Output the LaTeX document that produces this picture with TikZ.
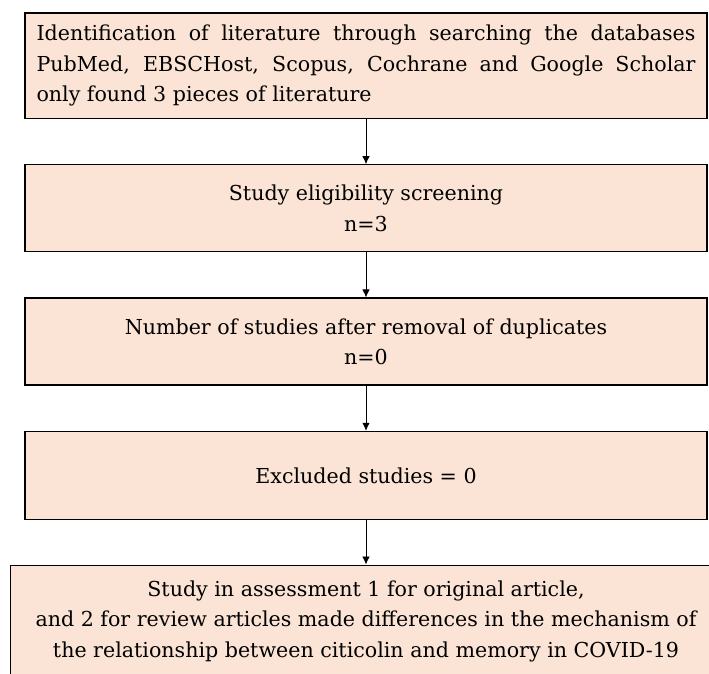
\documentclass[tikz,border=0pt]{standalone}
\usepackage{fontspec}
\setmainfont{DejaVu Serif}
\usetikzlibrary{arrows.meta,positioning}
\definecolor{boxfill}{HTML}{FBE4D5}

\begin{document}
\begin{tikzpicture}[x=1pt, y=1pt,
	stage/.style={rectangle, draw=black, line width=1.3pt, fill=boxfill, minimum width=682pt, inner sep=0pt, font=\fontsize{20.6pt}{30.5pt}\selectfont},
	flow/.style={-{Latex[length=8pt, width=7.5pt]}, line width=0.8pt}]
					\useasboundingbox (0,0) rectangle (709,-673);

					\node[stage, minimum height=105.5pt, text width=659pt, align=justify] (ident) at (366,-65.75) {Identification of literature through searching the databases PubMed, EBSCHost, Scopus, Cochrane and Google Scholar\linebreak only found 3 pieces of literature};
					\node[stage, minimum height=87pt, align=center, below=45pt of ident] (screen) {Study eligibility screening\\n=3};
					\node[stage, minimum height=87pt, align=center, below=45pt of screen] (dedup) {Number of studies after removal of duplicates\\n=0};
					\node[stage, minimum height=88pt, align=center, below=45pt of dedup] (excl) {Excluded studies = 0};
					\node[stage, minimum width=711pt, inner ysep=15.5pt, text depth=40pt, align=center, below=44.5pt of excl] (assess) {Study in assessment 1 for original article,\\and 2 for review articles made differences in the mechanism of\\the relationship between citicolin and memory in COVID-19};

					\draw[flow] (ident.south) -- (screen.north);
					\draw[flow] (screen.south) -- (dedup.north);
					\draw[flow] (dedup.south) -- (excl.north);
					\draw[flow] (excl.south) -- (assess.north);
				\end{tikzpicture}
\end{document}
